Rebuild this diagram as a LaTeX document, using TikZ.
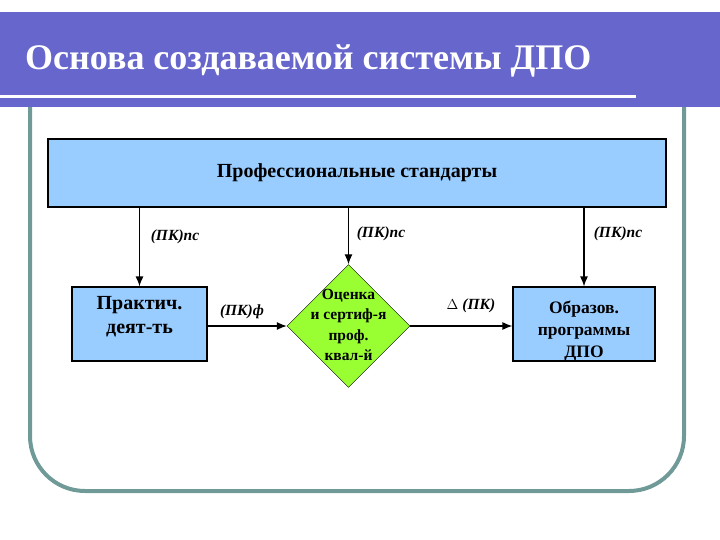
\documentclass[tikz,border=0pt]{standalone}
\usepackage{fontspec}
\setmainfont{Liberation Serif}
\usetikzlibrary{shapes.geometric,arrows.meta}

\definecolor{barblue}{HTML}{6666CC}
\definecolor{framegray}{HTML}{6F9A98}
\definecolor{boxblue}{HTML}{99CCFF}
\definecolor{lime}{HTML}{99FF33}

\begin{document}
\begin{tikzpicture}[x=1pt,y=-1pt,
  arr/.style={-{Latex[length=10pt,width=8pt]}, line width=1.2pt},
  box/.style={draw=black, line width=1.2pt, fill=boxblue, inner sep=0pt},
  evalshape/.style={diamond, draw=black, line width=0.4pt, fill=lime, inner sep=0pt, minimum width=123pt, minimum height=123pt},
  boxtext/.style={align=center, inner sep=0pt, font=\bfseries},
  lbl/.style={font=\fontsize{15.5}{18}\selectfont\bfseries\itshape}]
\useasboundingbox (0,0) rectangle (720,540);

% frame and title bar
\draw[framegray, line width=4pt, rounded corners=55pt] (30,100) -- (30,491) -- (684,491) -- (684,100);
\fill[barblue] (0,12) rectangle (720,107);
\fill[white] (0,95) rectangle (636,98);
\node[anchor=base west, text=white, font=\fontsize{36}{40}\selectfont\bfseries, inner sep=0pt] (title) at (25,70) {Основа создаваемой системы ДПО};

% boxes
\node[box, minimum width=618pt, minimum height=68pt] (std) at (357,173) {};
\node[boxtext, font=\fontsize{20}{24}\selectfont\bfseries] (stdtxt) at (std) {Профессиональные стандарты};
\node[box, minimum width=135pt, minimum height=74pt] (prac) at (139.5,324) {};
\node[boxtext, font=\fontsize{20}{24}\selectfont\bfseries] (practxt) at (139.5,317) {Практич.\\деят-ть};
\node[evalshape] (eval) at (348.5,326) {};
\node[boxtext, font=\fontsize{15.5}{20.5}\selectfont\bfseries] (evaltxt) at (348.5,325) {Оценка\\и сертиф-я\\проф.\\квал-й};
\node[box, minimum width=142pt, minimum height=74pt] (prog) at (584,324) {};
\node[boxtext, font=\fontsize{17.5}{22}\selectfont\bfseries] (progtxt) at (584,331) {Образов.\\программы\\ДПО};

% arrows
\draw[arr] (std.south -| prac.north) -- (prac.north);
\draw[arr] (std.south -| eval.north) -- (eval.north);
\draw[arr] (std.south -| prog.north) -- (prog.north);
\draw[arr] (prac.east |- eval.west) -- (eval.west);
\draw[arr] (eval.east) -- (prog.west |- eval.east);

% labels
\node[lbl] (pc1) at (175,237) {(ПК)пс};
\node[lbl] (pc2) at (381,234) {(ПК)пс};
\node[lbl] (pc3) at (618,234) {(ПК)пс};
\node[lbl] (pcf) at (242,312) {(ПК)ф};
\node[lbl] (dpc) at (471,306) {$\Delta$ (ПК)};
\end{tikzpicture}
\end{document}
